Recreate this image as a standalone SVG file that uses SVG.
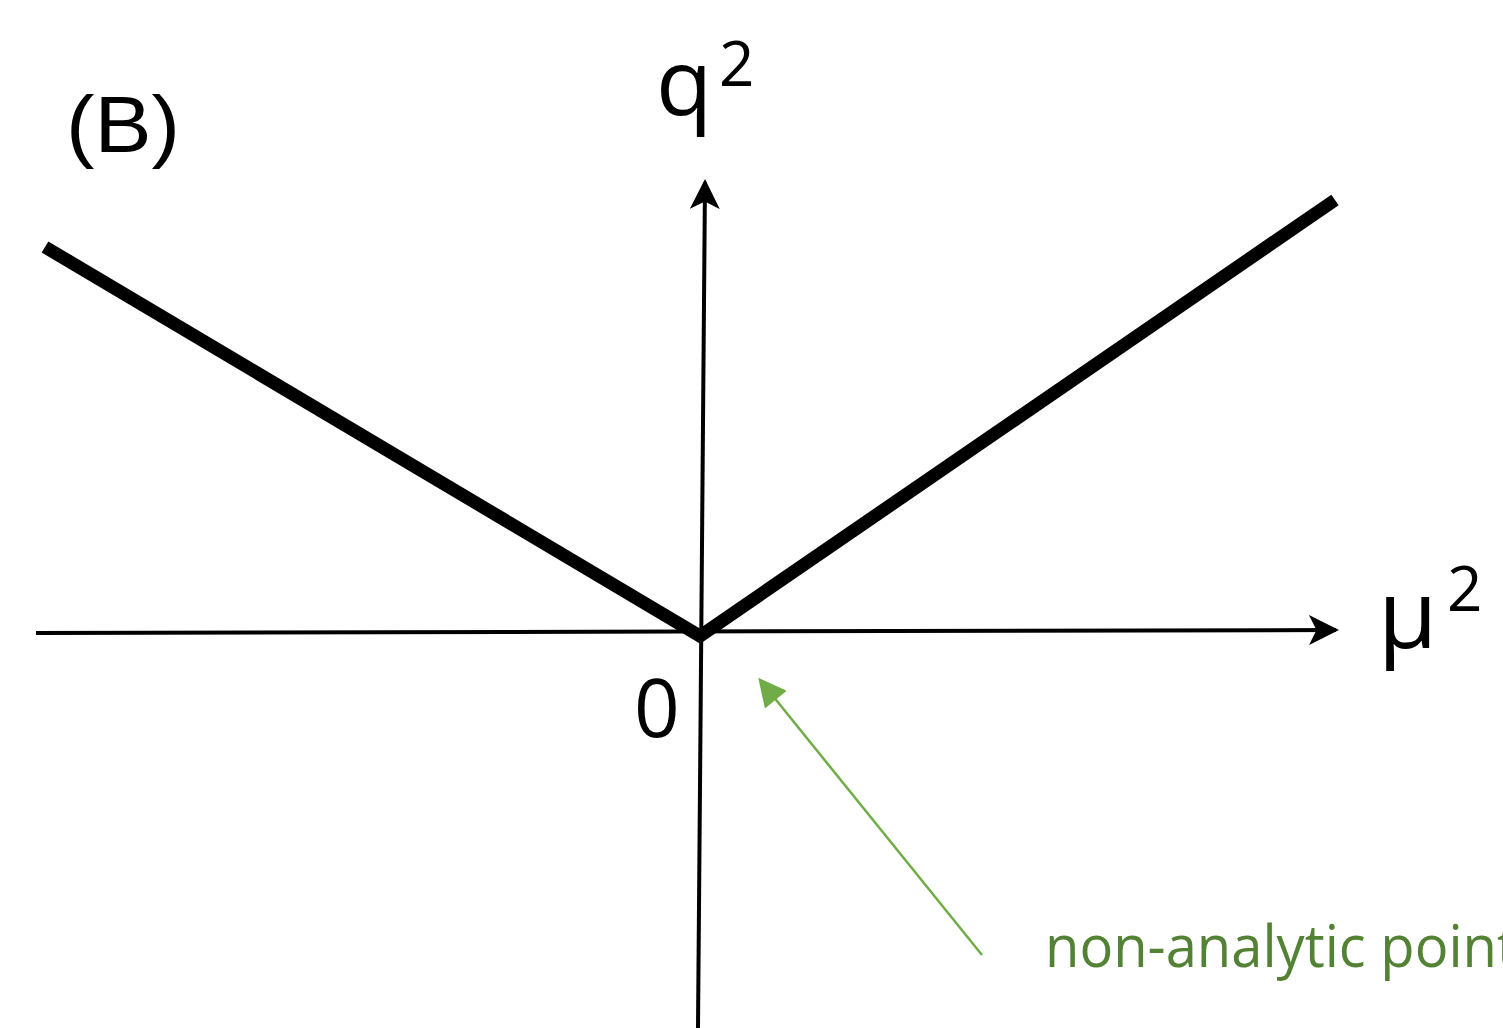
<svg xmlns="http://www.w3.org/2000/svg" width="1503" height="1028" viewBox="0 0 1503 1028">
<defs>
<marker id="ahk" viewBox="0 0 10 10" refX="9" refY="5" markerWidth="30" markerHeight="30" markerUnits="userSpaceOnUse" orient="auto"><path d="M0,0 L10,5 L0,10 L2.5,5 z" fill="#000"/></marker>
<marker id="ahg" viewBox="0 0 10 10" refX="9" refY="5" markerWidth="30" markerHeight="28" markerUnits="userSpaceOnUse" orient="auto"><path d="M0,0 L10,5 L0,10 z" fill="#70ad47"/></marker>
</defs>
<style>
.ax{stroke:#000;stroke-width:4;fill:none}
.t{font-family:"Open Sans","Noto Sans",sans-serif;fill:#000}
</style>
<rect width="1503" height="1028" fill="#fff"/>
<g id="connectors">
<line class="ax" x1="36" y1="633" x2="1336" y2="630" marker-end="url(#ahk)"/>
<line class="ax" x1="698" y1="1028" x2="705" y2="182" marker-end="url(#ahk)"/>
<polyline points="45,247 700,636 1335,200" fill="none" stroke="#000" stroke-width="13" stroke-linejoin="miter"/>
<line x1="982" y1="955" x2="760" y2="680" stroke="#70ad47" stroke-width="2.5" marker-end="url(#ahg)"/>
</g>
<g id="label-B"><text x="66" y="152" font-family="Liberation Sans,Arial,sans-serif" font-size="80" textLength="114" lengthAdjust="spacingAndGlyphs">(B)</text></g>
<g id="label-q2"><text class="t" x="656" y="115" font-size="92">q</text><text class="t" x="719" y="86" font-size="62">2</text></g>
<g id="label-mu2"><text class="t" x="1378" y="648" font-size="96">μ</text><text class="t" x="1447" y="611" font-size="62">2</text></g>
<g id="label-0"><text class="t" x="634" y="737" font-size="80">0</text></g>
<g id="label-nonanalytic"><text x="1045" y="967" font-family="Open Sans,Noto Sans,sans-serif" font-size="58" fill="#548235" textLength="472" lengthAdjust="spacingAndGlyphs">non-analytic point</text></g>
</svg>
